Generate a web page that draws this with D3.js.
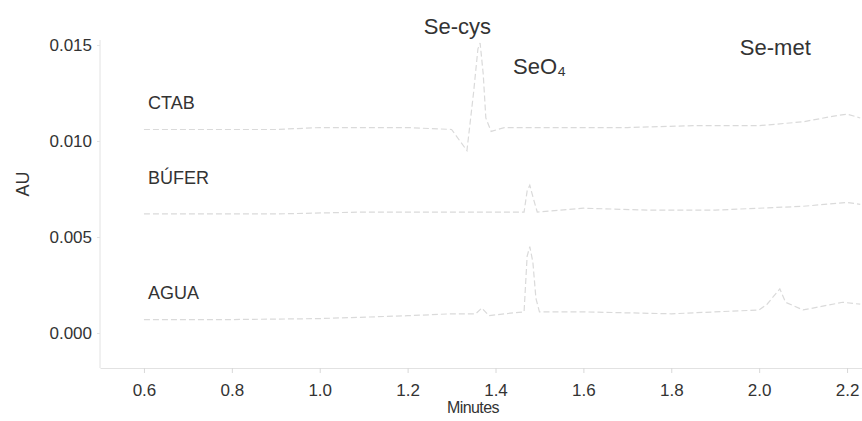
<!DOCTYPE html>
<html><head><meta charset="utf-8">
<script src="https://cdn.jsdelivr.net/npm/d3@7/dist/d3.min.js"></script>
<style>
body{margin:0;background:#fff;}
svg{display:block;font-family:"Liberation Sans",Arial,sans-serif;}
</style></head>
<body>
<svg id="c" width="862" height="421"></svg>
<script>
// ---- data ----
const xTicks = [0.6, 0.8, 1.0, 1.2, 1.4, 1.6, 1.8, 2.0, 2.2];
const yTicks = [0.000, 0.005, 0.010, 0.015];

const ctabTime = [0.60, 0.90, 1.00, 1.10, 1.20, 1.30, 1.335, 1.35, 1.36, 1.365, 1.372, 1.378, 1.39, 1.42, 1.55, 1.70, 1.85, 2.00, 2.10, 2.17, 2.20, 2.23];
const ctabAU   = [0.0106, 0.0106, 0.0107, 0.0107, 0.0107, 0.0106, 0.0095, 0.0125, 0.0148, 0.0151, 0.0135, 0.0112, 0.0105, 0.0107, 0.0107, 0.0107, 0.0108, 0.0108, 0.0110, 0.0113, 0.0114, 0.0112];

const buferTime = [0.60, 0.90, 1.10, 1.30, 1.40, 1.465, 1.472, 1.478, 1.485, 1.495, 1.60, 1.75, 1.90, 2.10, 2.20, 2.23];
const buferAU   = [0.0062, 0.0062, 0.0063, 0.0063, 0.0063, 0.0063, 0.0074, 0.0077, 0.0071, 0.0063, 0.0065, 0.0064, 0.0064, 0.0066, 0.0068, 0.0067];

const aguaTime = [0.60, 0.80, 1.00, 1.20, 1.30, 1.355, 1.369, 1.385, 1.42, 1.465, 1.472, 1.478, 1.485, 1.492, 1.50, 1.60, 1.80, 2.00, 2.018, 2.047, 2.06, 2.10, 2.19, 2.23];
const aguaAU   = [0.0007, 0.0007, 0.00075, 0.0009, 0.0010, 0.0010, 0.0013, 0.0009, 0.0010, 0.0011, 0.0040, 0.0045, 0.0037, 0.0018, 0.0011, 0.0011, 0.0010, 0.0012, 0.0015, 0.0023, 0.0016, 0.0012, 0.0016, 0.0015];

const traceNames = ["CTAB", "BÚFER", "AGUA"];
const traceLabelAU = [0.0120, 0.0081, 0.0021];
const peakNames = ["Se-cys", "SeO₄", "Se-met"];
const peakTime = [1.237, 1.44, 1.956];
const peakAU = [0.0160, 0.0139, 0.0149];

// ---- drawing ----
const svg = d3.select("#c");
const x = d3.scaleLinear().domain([0.5, 2.234]).range([100, 862]);
const y = d3.scaleLinear().domain([0, 0.015]).range([333, 45]);

const traces = [
  {t: ctabTime, v: ctabAU},
  {t: buferTime, v: buferAU},
  {t: aguaTime, v: aguaAU}
];
const line = d3.line().x(d => x(d[0])).y(d => y(d[1]));
traces.forEach(tr => {
  svg.append("path")
    .attr("d", line(tr.t.map((t, i) => [t, tr.v[i]])))
    .attr("fill", "none")
    .attr("stroke", "#dadada")
    .attr("stroke-width", 1.2)
    .attr("stroke-dasharray", "6,3");
});

// y axis
const yAxis = svg.append("g").attr("transform", "translate(100,0)")
  .call(d3.axisLeft(y).tickValues(yTicks).tickFormat(d3.format(".3f")).tickSize(3).tickPadding(5).tickSizeOuter(0));
yAxis.select(".domain").attr("stroke", "#e2e2e2").attr("d", "M0,40V368");
yAxis.selectAll(".tick line").attr("stroke", "#e2e2e2");
yAxis.selectAll("text").attr("font-size", 17).attr("fill", "#333").attr("font-family", "Liberation Sans, Arial, sans-serif");

// x axis
const xAxis = svg.append("g").attr("transform", "translate(0,368)")
  .call(d3.axisBottom(x).tickValues(xTicks).tickFormat(d3.format(".1f")).tickSize(5).tickPadding(11).tickSizeOuter(0));
xAxis.select(".domain").attr("stroke", "#e2e2e2");
xAxis.selectAll(".tick line").attr("stroke", "#d8d8d8");
xAxis.selectAll("text").attr("font-size", 17).attr("fill", "#333").attr("font-family", "Liberation Sans, Arial, sans-serif");

// axis titles
svg.append("text").attr("x", 473).attr("y", 413).attr("text-anchor", "middle")
  .attr("font-size", 16).attr("letter-spacing", "-0.6").attr("fill", "#333").text("Minutes");
svg.append("text").attr("transform", "translate(29,184) rotate(-90)").attr("text-anchor", "middle")
  .attr("font-size", 18).attr("fill", "#333").text("AU");

// trace labels
traceNames.forEach((n, i) => {
  svg.append("text").attr("x", 148).attr("y", y(traceLabelAU[i])).attr("dy", "0.35em")
    .attr("font-size", 18).attr("fill", "#333").text(n);
});
// peak labels
peakNames.forEach((n, i) => {
  svg.append("text").attr("x", x(peakTime[i])).attr("y", y(peakAU[i])).attr("dy", "0.35em")
    .attr("font-size", 22).attr("fill", "#333").text(n);
});
</script>
</body></html>
